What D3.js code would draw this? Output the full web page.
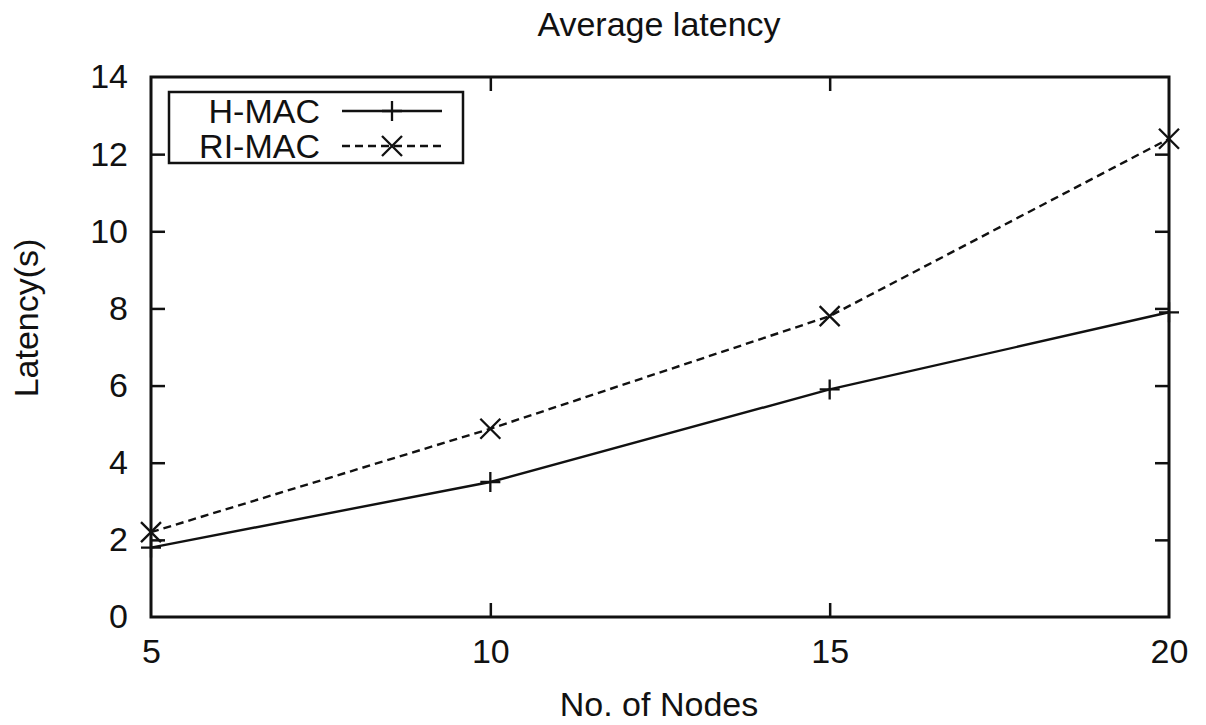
<!DOCTYPE html>
<html>
<head>
<meta charset="utf-8">
<script src="https://cdn.jsdelivr.net/npm/d3@7"></script>
<style>
  body { margin: 0; background: #fff; }
  svg text { font-family: "Liberation Sans", Arial, sans-serif; fill: #111; }
</style>
</head>
<body>
<div class="chart"></div>
<script>
// data
const nodes = [5, 10, 15, 20]
const hmac = [1.8, 3.5, 5.9, 7.9]
const rimac = [2.2, 4.88, 7.8, 12.4]
const xTicks = [5, 10, 15, 20]
const yTicks = [0, 2, 4, 6, 8, 10, 12, 14]

const width = 1206
const height = 725
const fontSize = 34
const margins = { top: 77, right: 37, bottom: 108, left: 151 }
const innerWidth = width - margins.left - margins.right
const innerHeight = height - margins.top - margins.bottom

const svg = d3.select('.chart')
  .append('svg')
  .attr('width', width)
  .attr('height', height)
  .attr('font-size', fontSize)

const g = svg.append('g')
  .attr('transform', `translate(${margins.left}, ${margins.top})`)

const x = d3.scaleLinear().domain([5, 20]).range([0, innerWidth])
const y = d3.scaleLinear().domain([0, 14]).range([innerHeight, 0])

// axes, ticks inward and mirrored like gnuplot
const tickLen = 14
function styleAxis(sel) {
  sel.attr('font-size', fontSize).attr('font-family', null)
  sel.select('.domain').remove()
  sel.selectAll('line').attr('stroke', '#111').attr('stroke-width', 2.5)
  sel.selectAll('text').attr('fill', '#111')
}

g.append('g')
  .attr('transform', `translate(0, ${innerHeight})`)
  .call(d3.axisBottom(x).tickValues(xTicks).tickSize(-tickLen).tickPadding(22))
  .call(styleAxis)
  .selectAll('line').filter(d => d === 5 || d === 20).remove()

g.append('g')
  .call(d3.axisTop(x).tickValues(xTicks).tickSize(-tickLen).tickFormat(''))
  .call(styleAxis)
  .selectAll('line').filter(d => d === 5 || d === 20).remove()

g.append('g')
  .call(d3.axisLeft(y).tickValues(yTicks).tickSize(-tickLen).tickPadding(23))
  .call(styleAxis)
  .selectAll('line').filter(d => d === 0 || d === 14).remove()

g.append('g')
  .attr('transform', `translate(${innerWidth}, 0)`)
  .call(d3.axisRight(y).tickValues(yTicks).tickSize(-tickLen).tickFormat(''))
  .call(styleAxis)
  .selectAll('line').filter(d => d === 0 || d === 14).remove()

// frame
g.append('rect')
  .attr('width', innerWidth)
  .attr('height', innerHeight)
  .attr('fill', 'none')
  .attr('stroke', '#111')
  .attr('stroke-width', 3)

// series
const line = d3.line()
  .x(d => x(d[0]))
  .y(d => y(d[1]))

const series = [
  { name: 'H-MAC', values: hmac, dash: null, marker: 'plus' },
  { name: 'RI-MAC', values: rimac, dash: '8,5', marker: 'cross' }
]

function drawMarker(sel, type, cx, cy) {
  const s = 10
  const p = type === 'plus'
    ? `M${cx - s},${cy}H${cx + s}M${cx},${cy - s}V${cy + s}`
    : `M${cx - s},${cy - s}L${cx + s},${cy + s}M${cx - s},${cy + s}L${cx + s},${cy - s}`
  sel.append('path')
    .attr('d', p)
    .attr('stroke', '#111')
    .attr('stroke-width', 2.3)
    .attr('fill', 'none')
}

series.forEach(s => {
  const pts = nodes.map((n, i) => [n, s.values[i]])
  g.append('path')
    .datum(pts)
    .attr('d', line)
    .attr('fill', 'none')
    .attr('stroke', '#111')
    .attr('stroke-width', 2.4)
    .attr('stroke-dasharray', s.dash)
  pts.forEach(p => drawMarker(g, s.marker, x(p[0]), y(p[1])))
})

// legend
const legend = svg.append('g')
legend.append('rect')
  .attr('x', 169)
  .attr('y', 92)
  .attr('width', 294)
  .attr('height', 71)
  .attr('fill', '#fff')
  .attr('stroke', '#111')
  .attr('stroke-width', 2.5)

series.forEach((s, i) => {
  const ly = 111 + i * 35
  legend.append('text')
    .attr('x', 320)
    .attr('y', ly + 12)
    .attr('text-anchor', 'end')
    .text(s.name)
  legend.append('line')
    .attr('x1', 342)
    .attr('x2', 442)
    .attr('y1', ly)
    .attr('y2', ly)
    .attr('stroke', '#111')
    .attr('stroke-width', 2.4)
    .attr('stroke-dasharray', s.dash)
  drawMarker(legend, s.marker, 392, ly)
})

// titles
svg.append('text')
  .attr('x', 659)
  .attr('y', 36)
  .attr('text-anchor', 'middle')
  .text('Average latency')

svg.append('text')
  .attr('x', 659)
  .attr('y', 716)
  .attr('text-anchor', 'middle')
  .text('No. of Nodes')

svg.append('text')
  .attr('transform', 'translate(38, 318) rotate(-90)')
  .attr('text-anchor', 'middle')
  .text('Latency(s)')
</script>
</body>
</html>
